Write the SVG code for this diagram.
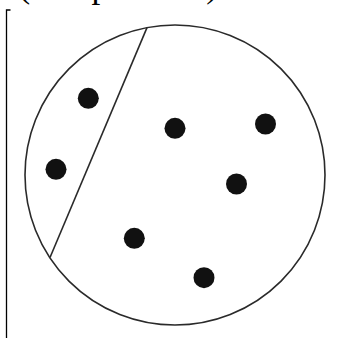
<svg xmlns="http://www.w3.org/2000/svg" width="345" height="338" viewBox="0 0 345 338">
<style>
.ln{fill:none;stroke:#2a2a2a;stroke-width:1.6}
.dot{fill:#111}
.br{fill:none;stroke:#000;stroke-width:1.3}
.t{font-family:"Liberation Serif","Times New Roman",serif;font-size:35px;fill:#000}
</style>
<rect width="345" height="338" fill="#fff"/>
<text class="t" x="18.6" y="-3">(Not possible)</text>
<path class="br" d="M10.5,10 H6.5 V338"/>
<g id="circle"><circle class="ln" cx="175" cy="175" r="150"/></g>
<g id="connectors"><line class="ln" x1="147" y1="27.6" x2="50" y2="257.5"/></g>
<g id="dot1"><circle class="dot" cx="88.3" cy="98.3" r="10.5"/></g>
<g id="dot2"><circle class="dot" cx="56" cy="169.3" r="10.5"/></g>
<g id="dot3"><circle class="dot" cx="175" cy="128.3" r="10.5"/></g>
<g id="dot4"><circle class="dot" cx="265.5" cy="124" r="10.5"/></g>
<g id="dot5"><circle class="dot" cx="236.5" cy="184" r="10.5"/></g>
<g id="dot6"><circle class="dot" cx="134.3" cy="238.3" r="10.5"/></g>
<g id="dot7"><circle class="dot" cx="204" cy="277.7" r="10.5"/></g>
</svg>
